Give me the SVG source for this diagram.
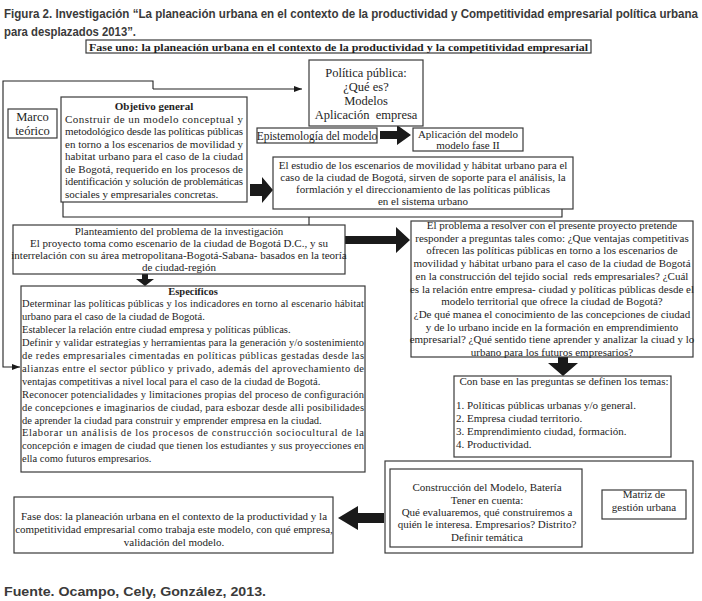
<svg xmlns="http://www.w3.org/2000/svg" width="702" height="601" viewBox="0 0 702 601">
<defs>
<style>
.bx{fill:#fff;stroke:#3a3a3a;stroke-width:1.2}
.t{font-family:'Liberation Serif','DejaVu Serif','Times New Roman',serif;font-size:11px;fill:#1e1e1e}
.c{text-anchor:middle}
.b{font-weight:bold}
.hd{font-family:'Liberation Sans Narrow','Liberation Sans',Arial,sans-serif;font-size:13.5px;font-weight:bold;fill:#3a3a3a}
.ln{fill:none;stroke:#222;stroke-width:1.1}
.ta{fill:#1a1a1a;stroke:none}
</style>
<marker id="ah" markerWidth="9" markerHeight="7" refX="8" refY="3" orient="auto" markerUnits="userSpaceOnUse">
<path d="M0,0 L8,3 L0,6 z" fill="#1a1a1a"/>
</marker>
</defs>
<rect width="702" height="601" fill="#fff"/>

<text class="hd" x="4" y="18" textLength="694" lengthAdjust="spacingAndGlyphs">Figura 2. Investigación “La planeación urbana en el contexto de la productividad y Competitividad empresarial política urbana</text>
<text class="hd" x="4" y="36" textLength="132" lengthAdjust="spacingAndGlyphs">para desplazados 2013”.</text>

<g font-family="Liberation Serif, DejaVu Serif, serif">
<g id="fase-uno">
<rect class="bx" x="86" y="40" width="505" height="13"/>
<text class="t b" x="89" y="50.5" textLength="499" lengthAdjust="spacingAndGlyphs">Fase uno: la planeación urbana en el contexto de la productividad y la competitividad empresarial</text>
</g>

<g id="connectors">
<path class="ln" d="M153,89 L153,81 L3,81 L3,367 L20,367" marker-end="url(#ah)"/>
<path class="ln" d="M153,89 L302,89" marker-end="url(#ah)"/>
<path class="ln" d="M63,202 L63,217 L562,217 L562,209"/>
<path class="ln" d="M309,217 L309,225"/>
<polygon class="ta" points="380,131 397,131 397,125 411,135 397,145 397,139 380,139"/>
<polygon class="ta" points="250,184 262,184 262,177 273,190 262,203 262,196 250,196"/>
<polygon class="ta" points="345,236 396,236 396,227 410,240 396,253 396,244 345,244"/>
<polygon class="ta" points="142,274 148,274 148,279 154,279 145,286 136,279 142,279"/>
<polygon class="ta" points="558,357 568,357 568,363 578,363 563,376 548,363 558,363"/>
<polygon class="ta" points="384,513 358,513 358,506 338,518 358,530 358,523 384,523"/>
</g>

<g id="marco-teorico">
<rect class="bx" x="8" y="109" width="49" height="29"/>
<text class="t c" x="32.5" y="121" style="font-size:12.5px">Marco</text>
<text class="t c" x="32.5" y="135" style="font-size:12.5px">teórico</text>
</g>

<g id="objetivo-general">
<rect class="bx" x="61" y="97" width="186" height="105"/>
<text class="t c b" x="154" y="110">Objetivo general</text>
<text class="t" x="65" y="122.6" textLength="178" lengthAdjust="spacing">Construir de un modelo conceptual y</text>
<text class="t" x="65" y="135.1" textLength="178" lengthAdjust="spacing">metodológico desde las políticas públicas</text>
<text class="t" x="65" y="147.7" textLength="178" lengthAdjust="spacing">en torno a los escenarios de movilidad y</text>
<text class="t" x="65" y="160.3" textLength="178" lengthAdjust="spacing">habitat urbano para el caso de la ciudad</text>
<text class="t" x="65" y="172.9" textLength="178" lengthAdjust="spacing">de Bogotá, requerido en los procesos de</text>
<text class="t" x="65" y="185.4" textLength="178" lengthAdjust="spacing">identificación y solución de problemáticas</text>
<text class="t" x="65" y="198">sociales y empresariales concretas.</text>
</g>

<g id="politica-publica">
<rect class="bx" x="309" y="60" width="114" height="66"/>
<text class="t c" x="366" y="77" style="font-size:12.5px">Política pública:</text>
<text class="t c" x="366" y="91" style="font-size:12.5px">¿Qué es?</text>
<text class="t c" x="366" y="105" style="font-size:12.5px">Modelos</text>
<text class="t c" x="366" y="119" style="font-size:12.5px" xml:space="preserve">Aplicación  empresa</text>
</g>

<g id="epistemologia">
<rect class="bx" x="257" y="128" width="120" height="15"/>
<text class="t c" x="317" y="139.5" style="font-size:11.5px">Epistemología del modelo</text>
</g>

<g id="aplicacion-modelo">
<rect class="bx" x="413" y="128" width="110" height="23"/>
<text class="t c" x="468" y="138">Aplicación del modelo</text>
<text class="t c" x="468" y="148.5">modelo fase II</text>
</g>

<g id="estudio-escenarios">
<rect class="bx" x="273" y="157" width="300" height="52"/>
<text class="t c" x="423" y="169">El estudio de los escenarios de movilidad y hábitat urbano para el</text>
<text class="t c" x="423" y="181">caso de la ciudad de Bogotá, sirven de soporte para el análisis, la</text>
<text class="t c" x="423" y="193">formlación y el direccionamiento de las políticas públicas</text>
<text class="t c" x="423" y="205">en el sistema urbano</text>
</g>

<g id="planteamiento">
<rect class="bx" x="13" y="225" width="332" height="49"/>
<text class="t c" x="179" y="235">Planteamiento del problema de la investigación</text>
<text class="t c" x="179" y="247">El proyecto toma como escenario de la ciudad de Bogotá D.C., y su</text>
<text class="t c" x="179" y="259">interrelación con su área metropolitana-Bogotá-Sabana- basados en la teoría</text>
<text class="t c" x="179" y="271">de ciudad-región</text>
</g>

<g id="problema">
<rect class="bx" x="411" y="221" width="282" height="136"/>
<text class="t c" x="552" y="229">El problema a resolver con el presente proyecto pretende</text>
<text class="t c" x="552" y="241.7">responder a preguntas tales como: ¿Que ventajas competitivas</text>
<text class="t c" x="552" y="254.4">ofrecen las políticas públicas en torno a los escenarios de</text>
<text class="t c" x="552" y="267.1">movilidad y hábitat urbano para el caso de la ciudad de Bogotá</text>
<text class="t c" x="552" y="279.8" xml:space="preserve">en la construcción del tejido social  reds empresariales? ¿Cuál</text>
<text class="t c" x="552" y="292.5">es la relación entre empresa- ciudad y políticas públicas desde el</text>
<text class="t c" x="552" y="305.2">modelo territorial que ofrece la ciudad de Bogotá?</text>
<text class="t c" x="552" y="317.9">¿De qué manea el conocimiento de las concepciones de ciudad</text>
<text class="t c" x="552" y="330.6">y de lo urbano incide en la formación en emprendimiento</text>
<text class="t c" x="552" y="343.3">empresarial? ¿Qué sentido tiene aprender y analizar la ciuad y lo</text>
<text class="t c" x="552" y="356">urbano para los futuros empresarios?</text>
</g>

<g id="especificos">
<rect class="bx" x="21" y="286" width="344" height="186"/>
<text class="t c b" x="193" y="294.5" style="font-size:10.5px">Especificos</text>
<text class="t" x="22" y="307.4" style="font-size:10.5px" textLength="342" lengthAdjust="spacing">Determinar las políticas públicas y los indicadores en torno al escenario hábitat</text>
<text class="t" x="22" y="320.3" style="font-size:10.5px">urbano para el caso de la ciudad de Bogotá.</text>
<text class="t" x="22" y="333.2" style="font-size:10.5px">Establecer la relación entre ciudad empresa y políticas públicas.</text>
<text class="t" x="22" y="346.1" style="font-size:10.5px" textLength="342" lengthAdjust="spacing">Definir y validar estrategias y herramientas para la generación y/o sostenimiento</text>
<text class="t" x="22" y="359" style="font-size:10.5px" textLength="342" lengthAdjust="spacing">de redes empresariales cimentadas en políticas públicas gestadas desde las</text>
<text class="t" x="22" y="371.9" style="font-size:10.5px" textLength="342" lengthAdjust="spacing">alianzas entre el sector público y privado, además del aprovechamiento de</text>
<text class="t" x="22" y="384.8" style="font-size:10.5px">ventajas competitivas a nivel local para el caso de la ciudad de Bogotá.</text>
<text class="t" x="22" y="397.7" style="font-size:10.5px" textLength="342" lengthAdjust="spacing">Reconocer potencialidades y limitaciones propias del proceso de configuración</text>
<text class="t" x="22" y="410.6" style="font-size:10.5px" textLength="342" lengthAdjust="spacing">de concepciones e imaginarios de ciudad, para esbozar desde alli posibilidades</text>
<text class="t" x="22" y="423.5" style="font-size:10.5px">de aprender la ciudad para construir y emprender empresa en la ciudad.</text>
<text class="t" x="22" y="436.4" style="font-size:10.5px" textLength="342" lengthAdjust="spacing">Elaborar un análisis de los procesos de construcción sociocultural de la</text>
<text class="t" x="22" y="449.3" style="font-size:10.5px" textLength="342" lengthAdjust="spacing">concepción e imagen de ciudad que tienen los estudiantes y sus proyecciones en</text>
<text class="t" x="22" y="462.2" style="font-size:10.5px">ella como futuros empresarios.</text>
</g>

<g id="con-base">
<rect class="bx" x="454" y="376" width="217" height="81"/>
<text class="t c" x="564" y="384.5">Con base en las preguntas se definen los temas:</text>
<text class="t" x="456" y="409">1. Políticas públicas urbanas y/o general.</text>
<text class="t" x="456" y="422">2. Empresa ciudad territorio.</text>
<text class="t" x="456" y="435">3. Emprendimiento ciudad, formación.</text>
<text class="t" x="456" y="448">4. Productividad.</text>
</g>

<g id="construccion-grupo">
<rect class="bx" x="385" y="461" width="308" height="92"/>
</g>

<g id="construccion-modelo">
<rect class="bx" x="390" y="469" width="192" height="78"/>
<text class="t c" x="487" y="491">Construcción del Modelo, Batería</text>
<text class="t c" x="487" y="504">Tener en cuenta:</text>
<text class="t c" x="487" y="516">Qué evaluaremos, qué construiremos a</text>
<text class="t c" x="487" y="528">quién le interesa. Empresarios? Distrito?</text>
<text class="t c" x="487" y="541">Definir temática</text>
</g>

<g id="matriz">
<rect class="bx" x="602" y="490" width="84" height="29"/>
<text class="t c" x="644" y="498">Matriz de</text>
<text class="t c" x="644" y="511">gestión urbana</text>
</g>

<g id="fase-dos">
<rect class="bx" x="14" y="497" width="319" height="56"/>
<text class="t c" x="174" y="520">Fase dos: la planeación urbana en el contexto de la productividad y la</text>
<text class="t c" x="174" y="533">competitividad empresarial como trabaja este modelo, con qué empresa,</text>
<text class="t c" x="174" y="546">validación del modelo.</text>
</g>
</g>

<text class="hd" x="4" y="596" textLength="262" lengthAdjust="spacingAndGlyphs">Fuente. Ocampo, Cely, González, 2013.</text>
</svg>
